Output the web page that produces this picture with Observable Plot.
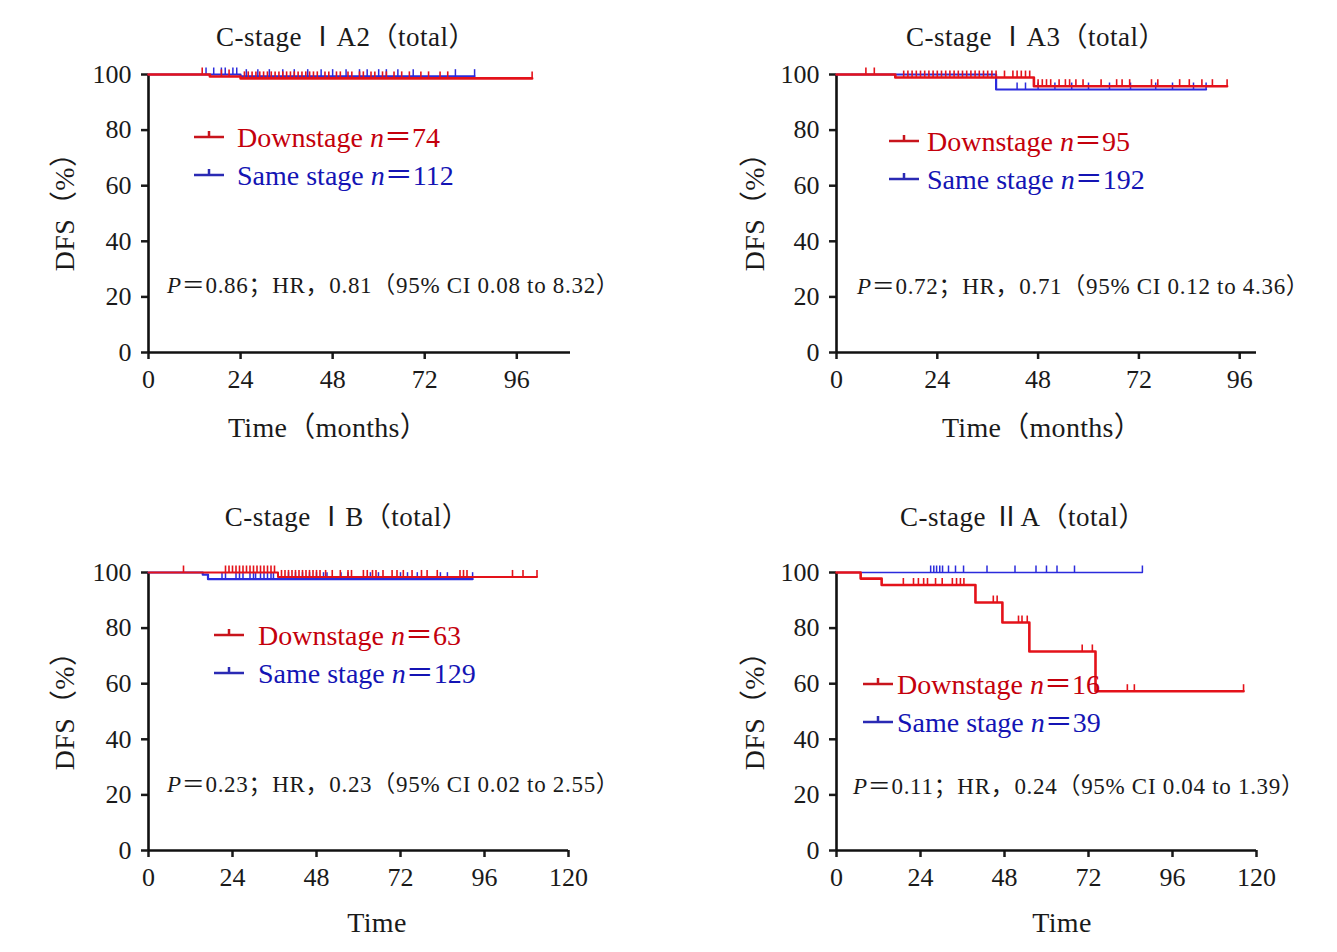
<!DOCTYPE html>
<html>
<head>
<meta charset="utf-8">
<script src="https://cdn.jsdelivr.net/npm/d3@7"></script>
<script src="https://cdn.jsdelivr.net/npm/@observablehq/plot@0.6"></script>
<style>
  html, body { margin: 0; padding: 0; background: #fff; }
  #root { position: relative; width: 1337px; height: 952px; overflow: hidden; background: #fff;
          font-family: "Liberation Serif", "Noto Sans CJK SC", serif; color: #1a1a1a; }
  .abs { position: absolute; white-space: nowrap; }
  .ctr { transform: translate(-50%, -55%); }
  .lft { transform: translate(0, -55%); }
  .title { font-size: 27px; letter-spacing: 0.5px; }
  .axlab { font-size: 28px; letter-spacing: 0.3px; }
  .leg { font-size: 28px; }
  .ann { font-size: 23px; letter-spacing: 0.7px; }
  .red { color: #c4000c; }
  .blue { color: #1414b4; }
  i { font-style: italic; }
</style>
</head>
<body>
<div id="root"></div>
<script>
// ---------- shared ticks ----------
const yTicks = [0, 20, 40, 60, 80, 100];
const xTicks96 = [0, 24, 48, 72, 96];
const xTicks120 = [0, 24, 48, 72, 96, 120];

// ---------- Panel 1: C-stage IA2 ----------
const ia2DownEvents = [16, 24];
const ia2DownSurv = [99.3, 98.6];
const ia2DownEnd = 100;
const ia2DownCens = [14, 19, 21, 25, 26, 27, 28, 29, 30, 31, 32, 33, 34, 35, 36, 37, 38, 39, 40, 41, 42, 43, 44, 46, 47, 49, 50, 52, 53, 55, 56, 58, 59, 61, 62, 64, 66, 68, 71, 73, 76, 78, 100];
const ia2SameEvents = [24];
const ia2SameSurv = [99.4];
const ia2SameEnd = 85;
const ia2SameCens = [15, 17, 19, 20, 22, 23, 25.5, 28.5, 31.5, 35, 38, 41.5, 45, 48, 51.5, 55, 57, 60, 62, 65, 69, 80, 85];

// ---------- Panel 2: C-stage IA3 ----------
const ia3DownEvents = [14, 47];
const ia3DownSurv = [98.9, 95.8];
const ia3DownEnd = 93;
const ia3DownCens = [7, 9, 16, 17, 18, 19, 20, 21, 22, 23, 24, 25, 26, 27, 28, 29, 30, 31, 32, 33, 34, 35, 36, 37, 38, 40, 42, 43, 44, 45, 46, 48, 49, 50, 51, 53, 54.5, 55.5, 57, 58.7, 63, 66.7, 68, 69.8, 75, 76.5, 81.7, 84, 87, 89.5, 93];
const ia3SameEvents = [38];
const ia3SameSurv = [94.6];
const ia3SameEnd = 88;
const ia3SameCens = [43, 45, 48, 52, 56, 60, 65, 70, 76, 80, 85, 88];

// ---------- Panel 3: C-stage IB ----------
const ibDownEvents = [37];
const ibDownSurv = [98.4];
const ibDownEnd = 111;
const ibDownCens = [10, 22, 23, 24, 25, 26, 27, 28, 29, 30, 31, 32, 33, 34, 35, 36, 38, 39, 40, 41, 42, 43, 44, 45, 46, 47, 48, 49, 50.6, 52.5, 54.8, 57, 58, 61.4, 62.5, 64, 65, 67, 69.6, 71, 72.8, 75.3, 78, 79.6, 82.5, 89, 90, 91, 104, 107, 111];
const ibSameEvents = [15.5, 17];
const ibSameSurv = [99.2, 97.6];
const ibSameEnd = 92.6;
const ibSameCens = [21, 22, 25, 26, 27, 29, 30, 30.6, 32, 33, 34, 35, 35.7, 40, 42, 44, 46, 48, 50, 51, 55, 57, 63.4, 65.7, 72, 74, 76.8, 83.4, 85.4, 92.6];

// ---------- Panel 4: C-stage IIA ----------
const iiaDownEvents = [6.9, 12.9, 39.7, 47.4, 55.1, 74];
const iiaDownSurv = [97.8, 95.5, 89.2, 82.0, 71.6, 57.3];
const iiaDownEnd = 116.3;
const iiaDownCens = [19.1, 22, 23.4, 24.9, 26, 28.3, 30.2, 33.1, 34.3, 35.4, 36.4, 44.8, 45.9, 52, 53, 54.5, 70.2, 73.1, 83.1, 85.1, 116.3];
const iiaSameEvents = [];
const iiaSameSurv = [];
const iiaSameEnd = 87.4;
const iiaSameCens = [26.9, 27.8, 28.6, 29.5, 30.3, 32, 34, 36.3, 43, 51, 57, 60, 63, 68, 87.4];

// ---------- text ----------
const titles = ["C-stage ⅠA2（total）", "C-stage ⅠA3（total）", "C-stage ⅠB（total）", "C-stage ⅡA（total）"];
const downN = [74, 95, 63, 16];
const sameN = [112, 192, 129, 39];
const pVals = ["0.86", "0.72", "0.23", "0.11"];
const hrVals = ["0.81", "0.71", "0.23", "0.24"];
const ciLo = ["0.08", "0.12", "0.02", "0.04"];
const ciHi = ["8.32", "4.36", "2.55", "1.39"];
const xLabels = ["Time（months）", "Time（months）", "Time", "Time"];

// ---------- helpers ----------
function kmPath(events, surv, end) {
  const pts = [{t: 0, s: 100}];
  events.forEach((t, i) => pts.push({t, s: surv[i]}));
  pts.push({t: end, s: surv.length ? surv[surv.length - 1] : 100});
  return pts;
}
function levelAt(events, surv, t) {
  let s = 100;
  events.forEach((e, i) => { if (t >= e) s = surv[i]; });
  return s;
}
function censPts(events, surv, cens) {
  return cens.map(t => ({t, s: levelAt(events, surv, t)}));
}
const tickUp = {
  draw(ctx, size) {
    const h = Math.sqrt(size / Math.PI);
    ctx.moveTo(0, 0);
    ctx.lineTo(0, -h);
  }
};

const RED = "#e4121a";
const BLUE = "#2b2bdc";

const panels = [
  {left: 0, top: 0, ml: 148, mr: 98, mt: 74, mb: 124, xmax: 110, xt: xTicks96,
   down: [ia2DownEvents, ia2DownSurv, ia2DownEnd, ia2DownCens],
   same: [ia2SameEvents, ia2SameSurv, ia2SameEnd, ia2SameCens], blueW: 2, redW: 2.6},
  {left: 668, top: 0, ml: 168, mr: 80, mt: 74, mb: 124, xmax: 100, xt: xTicks96,
   down: [ia3DownEvents, ia3DownSurv, ia3DownEnd, ia3DownCens],
   same: [ia3SameEvents, ia3SameSurv, ia3SameEnd, ia3SameCens], blueW: 2.2, redW: 2.6},
  {left: 0, top: 476, ml: 148, mr: 100, mt: 96, mb: 102, xmax: 120, xt: xTicks120,
   down: [ibDownEvents, ibDownSurv, ibDownEnd, ibDownCens],
   same: [ibSameEvents, ibSameSurv, ibSameEnd, ibSameCens], blueW: 2.2, redW: 2},
  {left: 668, top: 476, ml: 168, mr: 80, mt: 96, mb: 102, xmax: 120, xt: xTicks120,
   down: [iiaDownEvents, iiaDownSurv, iiaDownEnd, iiaDownCens],
   same: [iiaSameEvents, iiaSameSurv, iiaSameEnd, iiaSameCens], blueW: 1.3, redW: 2.6}
];

const root = document.getElementById("root");

panels.forEach(p => {
  const [de, ds, dend, dc] = p.down;
  const [se, ss, send, sc] = p.same;
  const chart = Plot.plot({
    width: 668, height: 476,
    marginLeft: p.ml, marginRight: p.mr, marginTop: p.mt, marginBottom: p.mb,
    x: {domain: [0, p.xmax]},
    y: {domain: [0, 100]},
    style: {fontFamily: '"Liberation Serif", serif', fontSize: "26px", color: "#1a1a1a", background: "transparent", overflow: "visible"},
    marks: [
      Plot.axisX({ticks: p.xt, tickSize: 7, tickPadding: 10, strokeWidth: 2.5, fontSize: 26, label: null}),
      Plot.axisY({ticks: yTicks, tickSize: 7, tickPadding: 10, strokeWidth: 2.5, fontSize: 26, label: null}),
      Plot.ruleY([0], {strokeWidth: 2.6, stroke: "#111"}),
      Plot.ruleX([0], {strokeWidth: 2.6, stroke: "#111"}),
      Plot.line(kmPath(se, ss, send), {x: "t", y: "s", curve: "step-after", stroke: BLUE, strokeWidth: p.blueW}),
      Plot.dot(censPts(se, ss, sc), {x: "t", y: "s", symbol: tickUp, r: 7, stroke: BLUE, strokeWidth: 1.5, fill: "none"}),
      Plot.line(kmPath(de, ds, dend), {x: "t", y: "s", curve: "step-after", stroke: RED, strokeWidth: p.redW}),
      Plot.dot(censPts(de, ds, dc), {x: "t", y: "s", symbol: tickUp, r: 7, stroke: RED, strokeWidth: 1.6, fill: "none"})
    ]
  });
  chart.style.position = "absolute";
  chart.style.left = p.left + "px";
  chart.style.top = p.top + "px";
  root.appendChild(chart);
});

// ---------- text overlays ----------
function addText(html, x, y, cls) {
  const d = document.createElement("div");
  d.className = "abs " + cls;
  d.style.left = x + "px";
  d.style.top = y + "px";
  d.innerHTML = html;
  root.appendChild(d);
  return d;
}
function legendSym(color, x, y) {
  const ns = "http://www.w3.org/2000/svg";
  const s = document.createElementNS(ns, "svg");
  s.setAttribute("width", 32); s.setAttribute("height", 14);
  s.style.position = "absolute";
  s.style.left = x + "px"; s.style.top = (y - 9) + "px";
  const l = document.createElementNS(ns, "path");
  l.setAttribute("d", "M1,9H31M16,9V3");
  l.setAttribute("stroke", color); l.setAttribute("stroke-width", "2.5"); l.setAttribute("fill", "none");
  s.appendChild(l);
  root.appendChild(s);
}

const titlePos = [[346, 36], [1036, 36], [347, 516], [1023, 516]];
const xLabPos = [[328, 427], [1042, 427], [377, 925], [1062, 925]];
const dfsPos = [[62, 205], [752, 205], [62, 704], [752, 704]];
const legPos = [[193, 237, 137, 175], [888, 927, 141, 179], [213, 258, 635, 673], [862, 897, 684, 722]];
const annPos = [[167, 285], [857, 286], [167, 784], [853, 786]];

for (let k = 0; k < 4; k++) {
  addText(titles[k], titlePos[k][0], titlePos[k][1], "ctr title");
  addText(xLabels[k], xLabPos[k][0], xLabPos[k][1], "ctr axlab");
  const d = addText("DFS（%）", dfsPos[k][0], dfsPos[k][1], "axlab");
  d.style.transform = "translate(-50%, -50%) rotate(-90deg)";
  const [sx, tx, ry, by] = legPos[k];
  legendSym("#c8141c", sx, ry);
  legendSym("#2a2ab4", sx, by);
  addText(`Downstage <i>n</i>＝${downN[k]}`, tx, ry, "lft leg red");
  addText(`Same stage <i>n</i>＝${sameN[k]}`, tx, by, "lft leg blue");
  addText(`<i>P</i>＝${pVals[k]}；HR，${hrVals[k]}（95% CI ${ciLo[k]} to ${ciHi[k]}）`, annPos[k][0], annPos[k][1], "lft ann");
}
</script>
</body>
</html>
